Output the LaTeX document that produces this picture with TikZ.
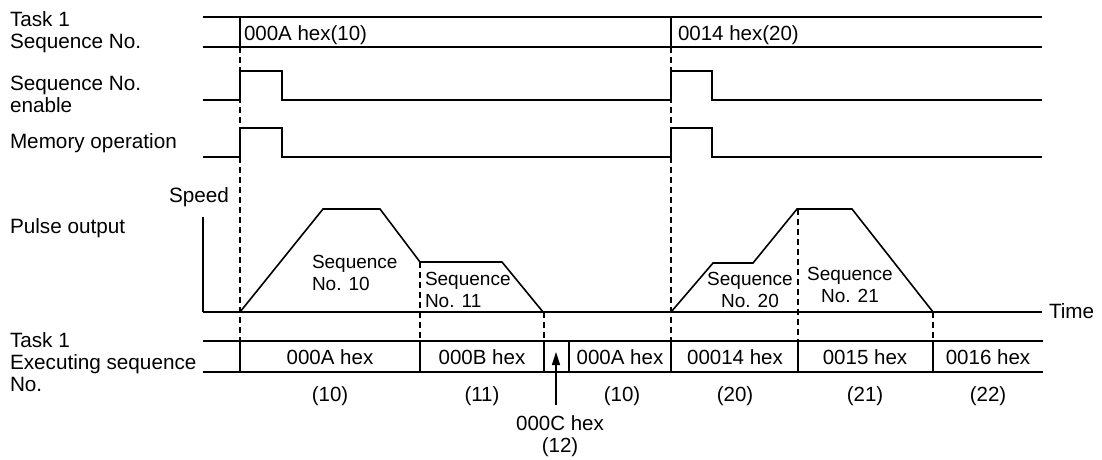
\documentclass[tikz,border=0pt]{standalone}
\usepackage{fontspec}
\setmainfont{Liberation Sans}
\usetikzlibrary{arrows.meta}
\begin{document}
\begin{tikzpicture}[x=1pt,y=-1pt,
  every node/.style={inner sep=0pt,outer sep=0pt},
  lbl/.style={font=\fontsize{20.7}{22}\selectfont,align=left,anchor=base west},
  val/.style={font=\fontsize{20.5}{22}\selectfont,anchor=base},
  seqlbl/.style={font=\fontsize{19}{22}\selectfont,anchor=base},
  sig/.style={line width=1.6pt,line join=miter},
  sep/.style={line width=1.1pt},
  guide/.style={line width=1.1pt,dash pattern=on 6pt off 4pt},
  arr/.style={line width=1.3pt,-{Triangle[length=13pt,width=8pt]}}]
\useasboundingbox (0,0) rectangle (1102,459);

% ---- labels on the left
\node[lbl] (ltask) at (10,48) {Task 1\\Sequence No.};
\node[lbl] (lenable) at (10,112) {Sequence No.\\enable};
\node[lbl] (lmem) at (10,148) {Memory operation};
\node[lbl] (lpulse) at (10,233) {Pulse output};
\node[lbl,anchor=base east] (lspeed) at (229,202) {Speed};
\node[lbl] (lexec) at (10,391) {Task 1\\Executing sequence\\No.};
\node[lbl] (ltime) at (1049,318) {Time};

% ---- guide (dashed) lines
\draw[guide] (240,47) -- (240,341);
\draw[guide] (671,47) -- (671,341);
\draw[guide] (420,262) -- (420,341);
\draw[guide] (544,312) -- (544,341);
\draw[guide] (798,209) -- (798,341);
\draw[guide] (933,312) -- (933,341);

% ---- Task 1 Sequence No. bus
\draw[sig] (203,17) -- (1042,17);
\draw[sig] (203,47) -- (1042,47);
\draw[sep] (240,17) -- (240,47);
\draw[sep] (671,17) -- (671,47);
\node[val,anchor=base west] (b10) at (244,40.5) {000A hex(10)};
\node[val,anchor=base west] (b20) at (678,40.5) {0014 hex(20)};

% ---- Sequence No. enable
\draw[sig] (203,100) -- (240,100) -- (240,71) -- (282,71) -- (282,100) -- (671,100)
  -- (671,71) -- (712,71) -- (712,100) -- (1042,100);
% ---- Memory operation
\draw[sig] (203,157) -- (240,157) -- (240,128) -- (282,128) -- (282,157) -- (671,157)
  -- (671,128) -- (712,128) -- (712,157) -- (1042,157);

% ---- Pulse output axes
\draw[sep] (203,217) -- (203,312);
\draw[sep] (203,312) -- (1042,312);
\draw[sig] (240,312) -- (323,209) -- (380,209) -- (420,262) -- (502,262) -- (543,312);
\draw[sig] (671,312) -- (713,263) -- (753,263) -- (797,209) -- (852,209) -- (933,312);
\node[seqlbl,anchor=base west,align=left] (s10) at (312,290) {Sequence\\No. 10};
\node[seqlbl,anchor=base west,align=left] (s11) at (425,307) {Sequence\\No. 11};
\node[seqlbl,align=center] (s20) at (750,307) {Sequence\\No. 20};
\node[seqlbl,align=center] (s21) at (850,302) {Sequence\\No. 21};

% ---- Executing sequence No. bus
\draw[sig] (203,341) -- (1043,341);
\draw[sig] (203,372) -- (1043,372);
\foreach \xx in {240,420,544,569,671,798,933}
  \draw[sep] (\xx,341) -- (\xx,372);
\node[val] (e1) at (330,364) {000A hex};
\node[val] (e2) at (482,364) {000B hex};
\node[val] (e4) at (620,364) {000A hex};
\node[val] (e5) at (735,364) {00014 hex};
\node[val] (e6) at (865,364) {0015 hex};
\node[val] (e7) at (988,364) {0016 hex};
\node[val] (d1) at (330,401) {(10)};
\node[val] (d2) at (482,401) {(11)};
\node[val] (d4) at (622,401) {(10)};
\node[val] (d5) at (735,401) {(20)};
\node[val] (d6) at (865,401) {(21)};
\node[val] (d7) at (988,401) {(22)};

% ---- 000C hex pointer
\node[val] (c12a) at (560,430) {000C hex};
\node[val] (c12b) at (560,452) {(12)};
\coordinate (arrtail) at (556,405);
\coordinate (arrtip) at (556,352);
\draw[arr] (arrtail) -- (arrtip);
\end{tikzpicture}
\end{document}
